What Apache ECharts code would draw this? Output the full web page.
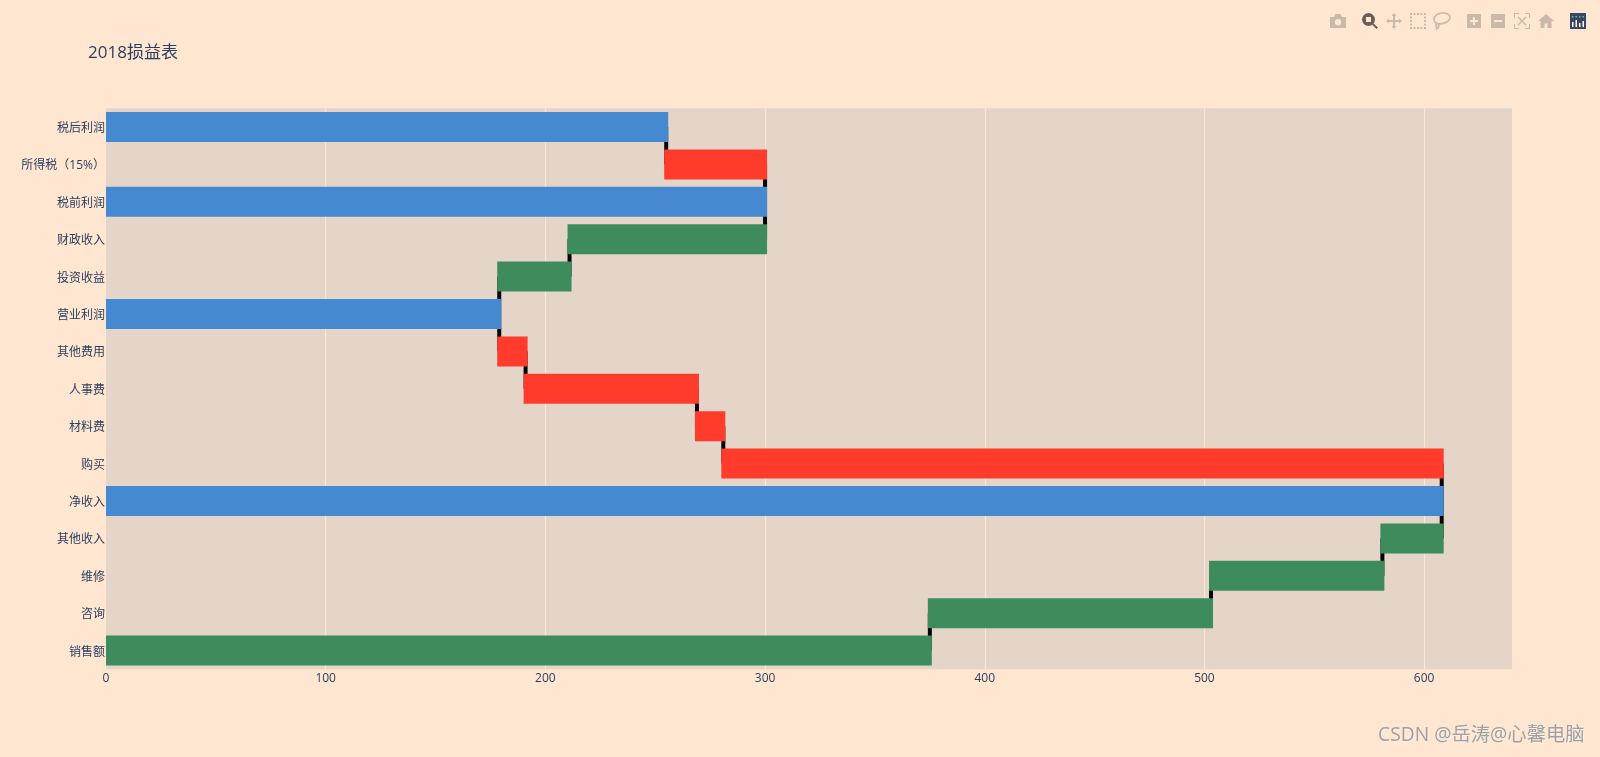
<!DOCTYPE html>
<html>
<head>
<meta charset="utf-8">
<style>html,body{margin:0;padding:0;background:#fee6d1;}#c{width:1600px;height:757px;}</style>
<script src="https://cdn.jsdelivr.net/npm/echarts@6/dist/echarts.min.js"></script>
</head>
<body>
<div id="c"></div>
<script>
const titleText = '2018损益表';
const watermark = 'CSDN @岳涛@心馨电脑';
const categories = ['销售额','咨询','维修','其他收入','净收入','购买','材料费','人事费','其他费用','营业利润','投资收益','财政收入','税前利润','所得税（15%）','税后利润'];
const baseValues = [0,375,503,581,0,281,269,191,179,0,179,211,0,255,0];
const increaseValues = [375,128,78,27,null,null,null,null,null,null,32,89,null,null,null];
const decreaseValues = [null,null,null,null,null,327,12,78,12,null,null,null,null,45,null];
const totalValues = [null,null,null,null,608,null,null,null,null,179,null,null,300,null,255];
const connectorLevels = [375,503,581,608,608,281,269,191,179,179,211,300,300,255];
const xTicks = {min:0,max:640,interval:100};

const FONT = '"Open Sans","Noto Sans CJK SC",sans-serif';
const INK = '#2a3f5f', PAPER = '#fee6d1', PLOT = '#e5d5c8';
const BLUE = '#4589d1', RED = '#ff3c2c', GREEN = '#3e8c5c';
const ICON = '#c9b9a9', ACTIVE = '#6a5f57', LOGO = '#3a4663';

const icons = [
  {b:[1330,14,16,14],c:ICON,d:'M0 3H4L5.5 0H10.5L12 3H16V14H0ZM8 5A3.2 3.2 0 0 0 8 11.4A3.2 3.2 0 0 0 8 5Z'},
  {b:[1362,13,16,16],c:ACTIVE,d:'M6.5 0A6.5 6.5 0 0 1 6.5 13A6.5 6.5 0 0 1 6.5 0ZM4 4V9H9V4ZM11 10L16 14.5L14.5 16L10 11.5Z'},
  {b:[1386,13,16,16],c:ICON,d:'M8 0L10.5 3H9V7H13V5.5L16 8L13 10.5V9H9V13H10.5L8 16L5.5 13H7V9H3V10.5L0 8L3 5.5V7H7V3H5.5Z'},
  {b:[1410,13,16,16],c:ICON,d:'M0 0H2V2H0ZM3.5 0H5.5V2H3.5ZM7 0H9V2H7ZM10.5 0H12.5V2H10.5ZM14 0H16V2H14ZM0 3.5H2V5.5H0ZM14 3.5H16V5.5H14ZM0 7H2V9H0ZM14 7H16V9H14ZM0 10.5H2V12.5H0ZM14 10.5H16V12.5H14ZM0 14H2V16H0ZM3.5 14H5.5V16H3.5ZM7 14H9V16H7ZM10.5 14H12.5V16H10.5ZM14 14H16V16H14Z'},
  {b:[1434,13,16,16],c:ICON,stroke:true,d:'M8.5 1C12.5 1 15.5 2.5 15.5 5C15.5 8 11 10.5 6 10.5C3 10.5 1 9 1 6.5C1 3.5 4.5 1 8.5 1ZM3 9C2.5 11 3 13 3.5 15C5 13.5 6 12.5 5.5 10.5'},
  {b:[1467,14,14,14],c:ICON,d:'M0 0H14V14H0ZM6 3V6H3V8H6V11H8V8H11V6H8V3Z'},
  {b:[1491,14,14,14],c:ICON,d:'M0 0H14V14H0ZM3 6V8H11V6Z'},
  {b:[1514,13,16,16],c:ICON,d:'M0 0H5V1H1V5H0ZM11 0H16V5H15V1H11ZM0 11H1V15H5V16H0ZM15 11H16V16H11V15H15ZM3.5 4.5L4.5 3.5L8 7L11.5 3.5L12.5 4.5L9 8L12.5 11.5L11.5 12.5L8 9L4.5 12.5L3.5 11.5L7 8Z'},
  {b:[1538,14,16,14],c:ICON,d:'M8 0L16 7H13.5V14H9.5V9.5H6.5V14H2.5V7H0Z'},
  {b:[1570,13,16,16],c:LOGO,d:'M0 0H16V16H0Z'},
  {b:[1572,20,12,7],c:'#ffffff',d:'M0 2H1.5V7H0ZM3.5 0H5V7H3.5ZM7 3H8.5V7H7ZM10.5 1H12V7H10.5Z'},
  {b:[1572,16,12,1.5],c:'#58c98a',d:'M0 0H1.5V1.5H0ZM3.5 0H5V1.5H3.5ZM7 0H8.5V1.5H7ZM10.5 0H12V1.5H10.5Z'}
];
const iconElements = icons.map(i => ({
  type:'path', silent:true,
  shape:{pathData:i.d,x:i.b[0],y:i.b[1],width:i.b[2],height:i.b[3],layout:'cover'},
  style:i.stroke ? {fill:'none',stroke:i.c,lineWidth:1.6} : {fill:i.c}
}));

const chart = echarts.init(document.getElementById('c'), null, {renderer:'canvas'});
const STROKE = 4, BAR_H = 26;
function barSeries(name, values, color){
  const data = [];
  values.forEach((v,i)=>{ if(v!=null) data.push([baseValues[i], baseValues[i]+v, i]); });
  return {name, type:'custom', z:3, clip:true, data, encode:{x:[0,1],y:2},
    renderItem:(params,api)=>{
      const a=api.coord([api.value(0),api.value(2)]);
      const b=api.coord([api.value(1),api.value(2)]);
      const left=Math.max(a[0]-STROKE/2, params.coordSys.x);
      const right=b[0]+STROKE/2;
      return {type:'rect',shape:{x:left,y:a[1]-BAR_H/2-STROKE/2,width:right-left,height:BAR_H+STROKE},style:{fill:color}};
    }};
}
chart.setOption({
  animation:false,
  backgroundColor:PAPER,
  textStyle:{fontFamily:FONT},
  title:{text:titleText,left:83,top:40,textStyle:{fontFamily:FONT,fontSize:17,fontWeight:'normal',color:INK}},
  grid:{left:106,right:88,top:108.3,height:561,show:true,backgroundColor:PLOT,borderWidth:0,containLabel:false},
  xAxis:{type:'value',min:xTicks.min,max:xTicks.max,interval:xTicks.interval,
    axisLine:{show:false},axisTick:{show:false},
    axisLabel:{color:INK,fontFamily:FONT,fontSize:12,margin:3,showMaxLabel:false},
    splitLine:{show:true,showMinLine:false,showMaxLine:false,lineStyle:{color:PAPER,width:1}}},
  yAxis:{type:'category',data:categories,
    axisLine:{show:false},axisTick:{show:false},splitLine:{show:false},
    axisLabel:{color:INK,fontFamily:FONT,fontSize:12,margin:1,interval:0,verticalAlign:'top',lineHeight:3}},
  graphic:{elements:[
    {type:'text',silent:true,x:1378,y:726,style:{text:watermark,font:'19.3px "Open Sans","Noto Sans CJK SC",sans-serif',fill:'#a0a0a0',textShadowColor:'rgba(255,255,255,0.5)',textShadowBlur:1,textShadowOffsetX:1,textShadowOffsetY:1}}
  ]},
  series:[
    {type:'custom',z:1,clip:false,data:connectorLevels.map((v,i)=>[v,i]),
      encode:{x:0,y:1},
      renderItem:(params,api)=>{
        const a=api.coord([api.value(0),api.value(1)]);
        const b=api.coord([api.value(0),api.value(1)+1]);
        return {type:'rect',shape:{x:a[0]-2,y:b[1],width:4,height:a[1]-b[1]},style:{fill:'#000'}};
      }},
    barSeries('increase',increaseValues,GREEN),
    barSeries('decrease',decreaseValues,RED),
    barSeries('total',totalValues,BLUE),
    {type:'custom',coordinateSystem:'none',silent:true,z:5,data:[0],
      renderItem:()=>({type:'group',children:iconElements})}
  ]
});
</script>
</body>
</html>
